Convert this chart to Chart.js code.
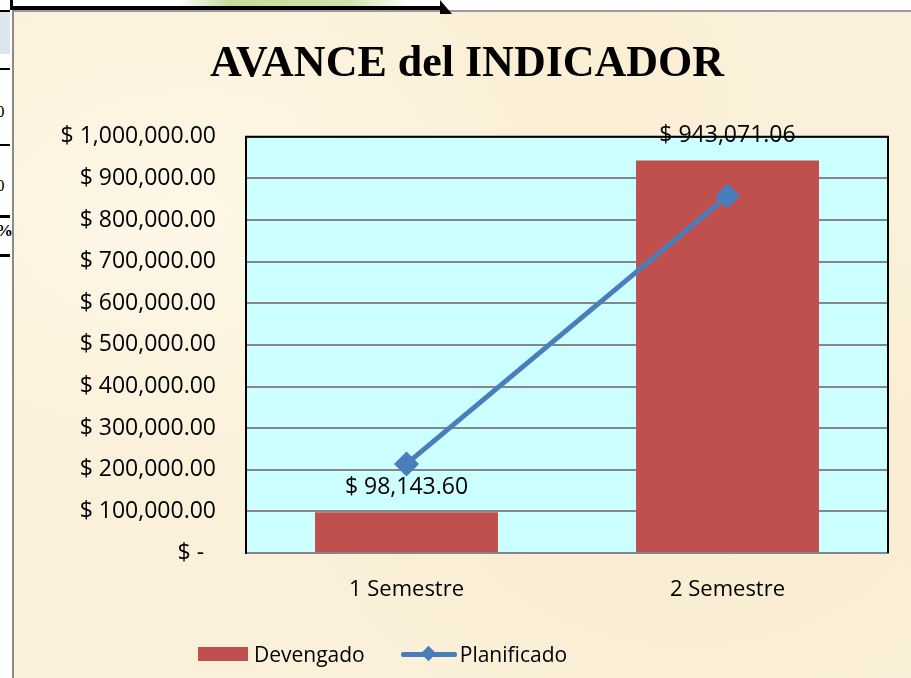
<!DOCTYPE html>
<html>
<head>
<meta charset="utf-8">
<script src="https://cdn.jsdelivr.net/npm/chart.js@4"></script>
<style>
  html, body { margin: 0; padding: 0; width: 911px; height: 678px; overflow: hidden; background: #fff; }
  #sheet {
    position: absolute; left: 12px; top: 10px; width: 899px; height: 668px;
    border-left: 2px solid #8a8a8a; border-top: 2px solid #9a9a9a;
    background:
      radial-gradient(ellipse at 20% 30%, rgba(255,248,232,0.9), rgba(255,248,232,0) 40%),
      radial-gradient(ellipse at 75% 70%, rgba(246,232,200,0.6), rgba(246,232,200,0) 45%),
      radial-gradient(ellipse at 60% 15%, rgba(250,238,210,0.8), rgba(250,238,210,0) 35%),
      #fbf0da;
  }
  #topbox {
    position: absolute; left: 10px; top: -4px; width: 432px; height: 10px;
    border-bottom: 4px solid #000; border-left: 3px solid #000;
    background: linear-gradient(90deg, #fff 38%, #c8dc9a 50%, #d2e4a8 78%, #fff 92%);
  }
  #topdiag {
    position: absolute; left: 440px; top: 0; width: 0; height: 0;
    border-left: 12px solid #000; border-top: 14px solid transparent;
  }
  .cell { position: absolute; left: 0; width: 10px; }
  .num { position: absolute; left: -4px; font: 17px "Liberation Serif", serif; color: #000; }
  #chartWrap { position: absolute; left: 0; top: 0; width: 911px; height: 678px; }
  #legend {
    position: absolute; top: 640px; left: 198px; height: 28px;
    display: flex; align-items: center;
    font: 21px "Open Sans", sans-serif; color: #000;
  }
  .lg-bar { width: 50px; height: 14px; background: #c0504d; margin-right: 6px; }
  .lg-line { width: 56px; height: 28px; position: relative; margin-left: 36px; margin-right: 3px; }
  .lg-line:before { content: ""; position: absolute; left: 0; right: 0; top: 12px; height: 5px; background: #4a7ebb; border-radius: 2px; }
  .lg-line:after { content: ""; position: absolute; left: 22px; top: 8px; width: 11px; height: 11px; background: #4a7ebb; transform: rotate(45deg); }
</style>
</head>
<body>
<div class="cell" style="top:10px;height:2px;background:#000"></div>
<div class="cell" style="top:12px;height:42px;background:#dce6f1"></div>
<div class="cell" style="top:68px;height:2px;background:#000"></div>
<div class="num" style="top:102px">0</div>
<div class="cell" style="top:144px;height:2px;background:#000"></div>
<div class="num" style="top:176px">0</div>
<div class="cell" style="top:215px;height:3px;background:#000"></div>
<div class="num" style="top:221px;font-weight:bold">%</div>
<div class="cell" style="top:254px;height:3px;background:#000"></div>
<div id="sheet"></div>
<div id="topbox"></div>
<div id="topdiag"></div>
<div id="chartWrap"><canvas id="chart" width="911" height="678"></canvas></div>
<div id="legend">
  <div class="lg-bar"></div><span>Devengado</span>
  <div class="lg-line"></div><span>Planificado</span>
</div>
<script>
const categories = ["1 Semestre", "2 Semestre"];
const devengado = [98143.60, 943071.06];
const planificado = [214000, 858000];
const yTicks = [0, 100000, 200000, 300000, 400000, 500000, 600000, 700000, 800000, 900000, 1000000];

const fontFamily = '"Open Sans", sans-serif';

function money(v) {
  if (v === 0) return "$ -  ";
  return "$ " + v.toLocaleString("en-US", { minimumFractionDigits: 2, maximumFractionDigits: 2 });
}

// fondo celeste del área de trazado + marco negro
const plotBg = {
  id: "plotBg",
  beforeDraw(chart) {
    const a = chart.chartArea, c = chart.ctx;
    c.save();
    c.fillStyle = "#ccffff";
    c.fillRect(a.left, a.top, a.right - a.left, a.bottom - a.top);
    c.restore();
  },
  afterDraw(chart) {
    const a = chart.chartArea, c = chart.ctx;
    c.save();
    c.strokeStyle = "#000";
    c.lineWidth = 2;
    c.beginPath();
    c.moveTo(a.left, a.bottom);
    c.lineTo(a.left, a.top);
    c.lineTo(a.right, a.top);
    c.lineTo(a.right, a.bottom);
    c.stroke();
    c.restore();
  }
};

// etiquetas de valor sobre las barras (dataset 1 = Devengado)
const barLabels = {
  id: "barLabels",
  afterDatasetsDraw(chart) {
    const c = chart.ctx;
    const meta = chart.getDatasetMeta(1);
    c.save();
    c.font = "23px " + fontFamily;
    c.fillStyle = "#000";
    c.textAlign = "center";
    c.textBaseline = "middle";
    meta.data.forEach((bar, i) => {
      c.fillText(money(devengado[i]), bar.x, bar.y - 25);
    });
    c.restore();
  }
};

new Chart(document.getElementById("chart"), {
  data: {
    labels: categories,
    datasets: [
      {
        type: "line",
        label: "Planificado",
        data: planificado,
        borderColor: "#4a7ebb",
        backgroundColor: "#4a7ebb",
        borderWidth: 5,
        pointStyle: "rectRot",
        pointRadius: 9,
        pointHoverRadius: 9,
        order: 0
      },
      {
        type: "bar",
        label: "Devengado",
        data: devengado,
        backgroundColor: "#c0504d",
        barPercentage: 0.57,
        categoryPercentage: 1,
        order: 1
      }
    ]
  },
  options: {
    responsive: false,
    animation: false,
    layout: { padding: { left: 46, right: 23, top: 38, bottom: 0 } },
    plugins: {
      legend: { display: false },
      tooltip: { enabled: false },
      title: {
        display: true,
        text: "AVANCE del INDICADOR",
        color: "#000",
        font: { family: '"Liberation Serif", serif', size: 44, weight: "bold" },
        padding: { top: 0, bottom: 46 }
      }
    },
    scales: {
      x: {
        grid: { display: false, drawTicks: false },
        border: { display: true, color: "#868686", width: 2 },
        ticks: { color: "#000", font: { family: fontFamily, size: 22 }, padding: 24 },
        afterFit(scale) { scale.height = 125; }
      },
      y: {
        min: 0,
        max: 1000000,
        afterBuildTicks(scale) { scale.ticks = yTicks.map(v => ({ value: v })); },
        grid: { color: "#868686", lineWidth: 2, drawTicks: false },
        border: { display: true, color: "#000", width: 2 },
        ticks: { color: "#000", font: { family: fontFamily, size: 23 }, padding: 30, callback: v => money(v) },
        afterFit(scale) { scale.width = 200; }
      }
    }
  },
  plugins: [plotBg, barLabels]
});
</script>
</body>
</html>
